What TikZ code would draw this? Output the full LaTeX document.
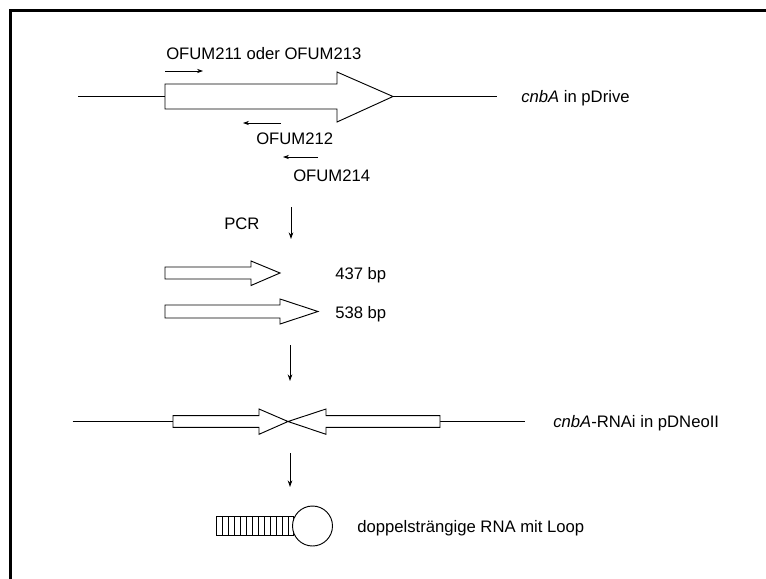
\documentclass[tikz,border=0pt]{standalone}
\usepackage{fontspec}
\setmainfont{Liberation Sans}
\usetikzlibrary{arrows.meta}
\tikzset{
  gene/.style={draw, line width=0.7pt, fill=white, line join=miter},
  dna/.style={line width=0.7pt},
  primer/.style={line width=0.6pt, -{Stealth[length=4.5pt,width=3.2pt]}},
  stepdown/.style={line width=0.7pt, -{Stealth[length=5pt,width=3.5pt]}},
  lbl/.style={anchor=base west, inner sep=0pt, font=\fontsize{12.5}{15}\selectfont},
  frameline/.style={line width=1.6pt}
}
\begin{document}
\begin{tikzpicture}[x=0.75pt, y=-0.75pt]
\useasboundingbox (0,0) rectangle (766,578);
% frame (top and left only visible)
\draw[frameline] (10.5,580) -- (10.5,10.5) -- (768,10.5);

% --- cnbA in pDrive ---
\coordinate (L1a) at (78,96.5);
\coordinate (L1b) at (165,96.5);
\coordinate (L1c) at (393,96.5);
\coordinate (L1d) at (497,96.5);
\draw[dna] (L1a) -- (L1b);
\draw[dna] (L1c) -- (L1d);
\draw[gene] (165,84) -- (337,84) -- (337,72) -- (393,96.5) -- (337,122) -- (337,109) -- (165,109) -- cycle;
\node[lbl] (pdrive) at (521,102.5) {\textit{cnbA} in pDrive};

% primers
\node[lbl] (p211) at (166,59) {OFUM211 oder OFUM213};
\coordinate (p211a) at (165,71);
\coordinate (p211b) at (203,71);
\draw[primer] (p211a) -- (p211b);
\coordinate (p212a) at (281,123);
\coordinate (p212b) at (243,123);
\draw[primer] (p212a) -- (p212b);
\node[lbl] (p212) at (256,144) {OFUM212};
\coordinate (p214a) at (318,157);
\coordinate (p214b) at (283,157);
\draw[primer] (p214a) -- (p214b);
\node[lbl] (p214) at (293,181) {OFUM214};

% PCR step
\node[lbl] (pcr) at (224,229) {PCR};
\coordinate (d1a) at (291,207);
\coordinate (d1b) at (291,239);
\draw[stepdown] (d1a) -- (d1b);

% PCR products
\draw[gene] (165,267) -- (251,267) -- (251,261) -- (280,273) -- (251,285.5) -- (251,279) -- (165,279) -- cycle;
\node[lbl] (bp437) at (335,279) {437 bp};
\draw[gene] (165,305) -- (280,305) -- (280,299) -- (318,311.5) -- (280,324) -- (280,318) -- (165,318) -- cycle;
\node[lbl] (bp538) at (335,318) {538 bp};

\coordinate (d2a) at (290,345);
\coordinate (d2b) at (290,381);
\draw[stepdown] (d2a) -- (d2b);

% cnbA-RNAi construct
\coordinate (L2a) at (72.7,421.5);
\coordinate (L2b) at (173,421.5);
\coordinate (L2c) at (440,421.5);
\coordinate (L2d) at (525,421.5);
\draw[dna] (L2a) -- (L2b);
\draw[dna] (L2c) -- (L2d);
\draw[gene] (173,415.7) -- (259,415.7) -- (259,409) -- (288,421.5) -- (259,434.3) -- (259,427.3) -- (173,427.3) -- cycle;
\draw[gene] (440,415.7) -- (326,415.7) -- (326,409) -- (288,421.5) -- (326,434.3) -- (326,427.3) -- (440,427.3) -- cycle;
\node[lbl] (rnai) at (553,427.5) {\textit{cnbA}-RNAi in pDNeoII};

\coordinate (d3a) at (290,453);
\coordinate (d3b) at (290,487);
\draw[stepdown] (d3a) -- (d3b);

% hairpin RNA
\draw[dna] (216,516.5) rectangle (293,535.5);
\foreach \k in {1,...,12} {
  \draw[line width=0.6pt] (216+6*\k,516.5) -- (216+6*\k,535.5);
}
\draw[gene] (312.5,526) circle[radius=15pt];
\node[lbl] (dsrna) at (357,532) {doppelsträngige RNA mit Loop};
\end{tikzpicture}
\end{document}
